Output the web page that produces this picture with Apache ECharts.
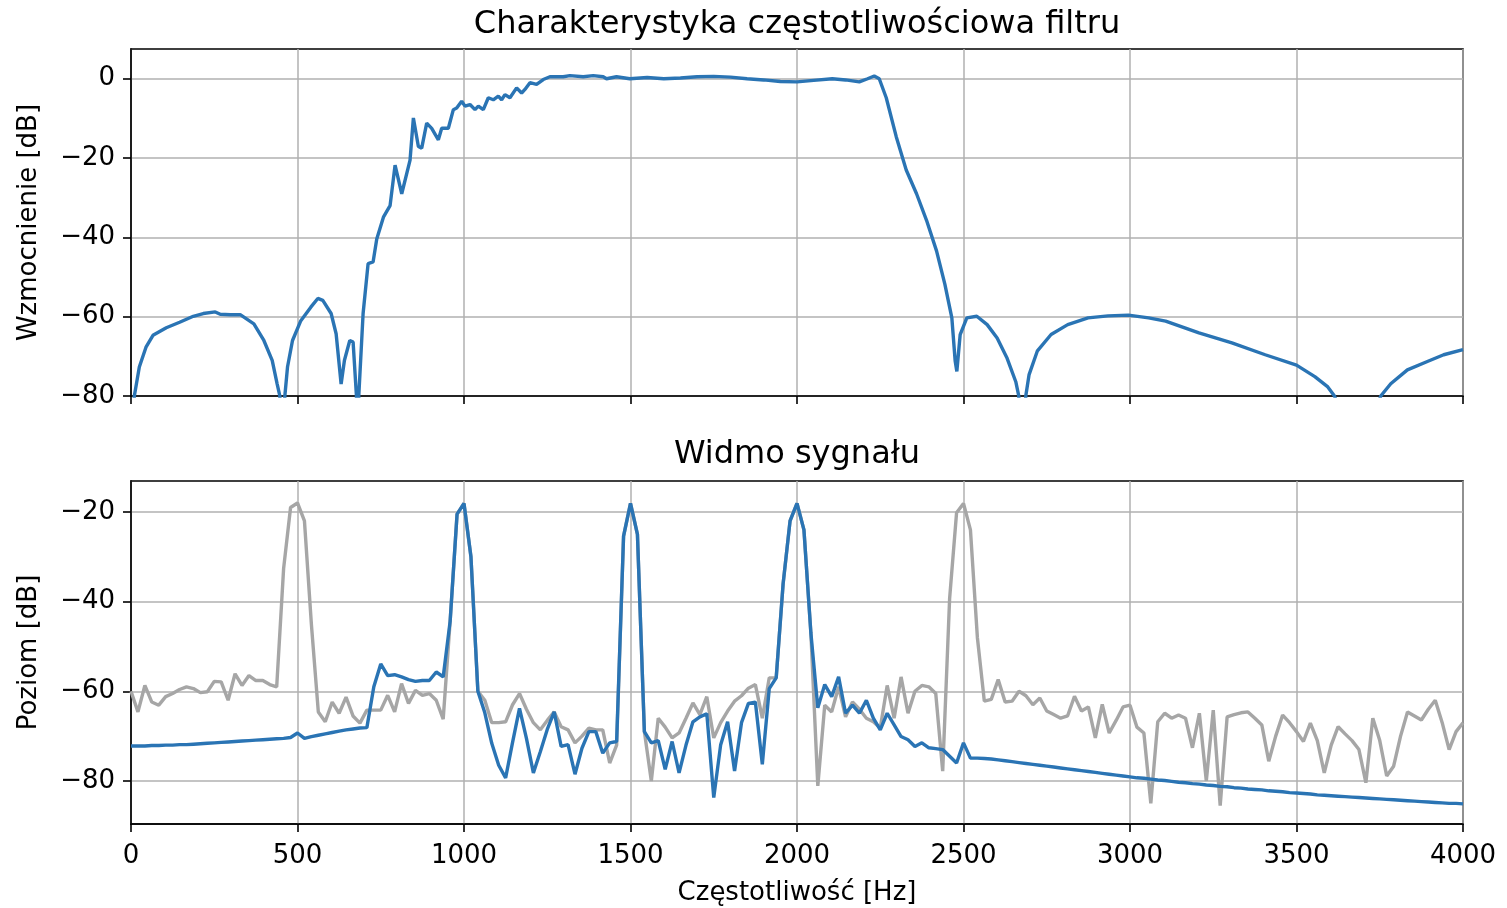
<!DOCTYPE html>
<html>
<head>
<meta charset="utf-8">
<script src="https://cdn.jsdelivr.net/npm/echarts@6/dist/echarts.min.js"></script>
<style>
  html, body { margin: 0; padding: 0; background: #fff; }
  #chart { width: 1507px; height: 908px; }
</style>
</head>
<body>
<div id="chart"></div>
<script>
// Filter magnitude response (frequency in Hz, gain in dB)
const filterFreq = [
  0, 10, 25, 45, 66, 106, 146, 187, 217, 253, 268, 298, 328, 369, 399, 424, 439, 447, 454, 462,
  470, 485, 510, 540, 561, 576, 601, 616, 631, 641, 657, 667, 677, 680, 684, 697, 712, 727, 738, 758,
  778, 793, 813, 838, 848, 863, 873, 888, 903, 923, 933, 953, 968, 978, 993, 1003, 1018, 1033, 1043, 1058,
  1073, 1088, 1103, 1113, 1123, 1138, 1158, 1173, 1183, 1198, 1218, 1238, 1258, 1298, 1318, 1358, 1388, 1418, 1428, 1458,
  1498, 1550, 1600, 1650, 1700, 1750, 1800, 1850, 1900, 1950, 2000, 2050, 2106, 2146, 2187, 2212, 2232, 2247, 2268, 2298,
  2328, 2359, 2389, 2419, 2444, 2465, 2475, 2480, 2490, 2510, 2540, 2571, 2601, 2631, 2657, 2666, 2676, 2687, 2697, 2722,
  2763, 2813, 2874, 2934, 2995, 3056, 3107, 3207, 3306, 3406, 3500, 3555, 3594, 3614, 3650, 3685, 3720, 3753, 3783, 3833,
  3893, 3942, 4000
];
const filterGain = [
  -92, -80, -72.7, -67.7, -64.7, -62.8, -61.4, -59.9, -59.2, -58.8, -59.4, -59.5, -59.5, -61.8, -66, -71, -77, -80, -100, -80,
  -72.7, -66, -61, -57.6, -55.4, -55.9, -59.2, -64.3, -77, -71, -66, -66.4, -80, -98, -80, -59.2, -46.6, -46.2, -40.4, -34.9,
  -32, -21.8, -29, -20.5, -9.9, -17.1, -17.5, -11.2, -12.5, -15.4, -12.5, -12.5, -7.8, -7.4, -5.7, -6.9, -6.5, -7.8, -6.9, -7.8,
  -4.8, -5.3, -4.4, -5.3, -4, -4.8, -2.3, -3.6, -2.7, -1, -1.4, -0.2, 0.5, 0.5, 0.8, 0.5, 0.8, 0.5, 0, 0.5,
  0, 0.3, 0, 0.2, 0.5, 0.6, 0.4, 0, -0.3, -0.7, -0.8, -0.4, 0, -0.3, -0.8, 0, 0.7, 0, -4.8, -14.6,
  -23, -29, -35.7, -43.4, -51.8, -60.3, -71.2, -73.8, -64.5, -60.3, -59.9, -62, -65.4, -70.5, -76.4, -80, -100, -80, -74.6, -68.6,
  -64.5, -62, -60.3, -59.8, -59.6, -60.3, -61.1, -64.1, -66.6, -69.6, -72.2, -75.1, -77.7, -80, -88, -95, -88, -80, -76.9, -73.4,
  -71.3, -69.6, -68.3
];

// Spectrum bins: fs = 8000 Hz, 384-point FFT, bins 0..192
const BIN_HZ = 8000 / 384;

// Level of the input signal (dB), one value per bin
const inputLevel = [
  -60, -64.6, -58.7, -62.4, -63.1, -61.2, -60.5, -59.6, -59, -59.4,
  -60.3, -60.1, -57.8, -57.9, -62, -56.1, -58.7, -56.5, -57.6, -57.6,
  -58.5, -59, -32.6, -19, -18, -22, -45, -64.6, -66.8, -62.4,
  -64.9, -61.3, -65.5, -67.1, -64.2, -64.2, -64.2, -60.9, -64.6, -58.3,
  -62.7, -59.8, -60.9, -60.5, -62, -66.2, -44.4, -20.5, -18.1, -30,
  -60, -62, -67, -67, -66.8, -63, -60.5, -64, -67, -68.6,
  -66.5, -64.6, -67.9, -68.6, -71.5, -70, -68.2, -68.6, -68.6, -76,
  -72, -25.4, -18.1, -25, -69, -80, -66, -68, -70.4, -69.3,
  -66, -62.6, -65.2, -61.2, -70.4, -67, -64.4, -62.2, -61, -59.3,
  -58.5, -66, -57, -57, -36, -22, -18.1, -24, -47, -81.1,
  -63.1, -64.6, -59, -65.7, -62.4, -64, -66, -66.8, -68.2, -58.7,
  -66, -56.8, -64.9, -60, -58.7, -59, -60.5, -77.8, -39.3, -20.2,
  -18.1, -24, -48, -62.2, -61.8, -57.4, -62.4, -62.2, -60, -61,
  -63, -61.5, -64.4, -65.2, -66, -65.5, -61.1, -64.4, -63.5, -70.4,
  -62.9, -69.3, -66.5, -63.5, -63.1, -68, -69.3, -85, -66.8, -64.9,
  -66, -65.3, -66, -72.6, -64.9, -80, -64.2, -85.5, -65.7, -65.2,
  -64.8, -64.6, -66, -67.5, -75.6, -70, -65.3, -67, -69, -71.2,
  -67.1, -71, -78.2, -72, -67.9, -69.5, -71, -73, -80.4, -66,
  -71, -78.9, -76.7, -70, -64.6, -65.5, -66.4, -64, -62, -67,
  -73, -69, -67
];

// Level of the filtered signal (dB), one value per bin
const outputLevel = [
  -72.2, -72.2, -72.2, -72.1, -72.1, -72.0, -72.0, -71.9, -71.9, -71.8,
  -71.7, -71.6, -71.5, -71.4, -71.3, -71.2, -71.1, -71.0, -70.9, -70.8,
  -70.7, -70.6, -70.5, -70.3, -69.3, -70.5, -70.1, -69.8, -69.5, -69.2,
  -68.9, -68.6, -68.4, -68.2, -68.1, -59, -53.9, -56.5, -56.3, -56.8,
  -57.4, -57.8, -57.6, -57.6, -55.7, -56.8, -44.4, -20.5, -18.1, -30,
  -60, -64.8, -71.6, -76.5, -79.3, -71.4, -63.8, -70.5, -78.2, -73.5,
  -68.5, -64.6, -72.3, -71.9, -78.5, -72.7, -69, -69, -73.8, -71.5,
  -71.2, -25.4, -18.1, -25, -69, -71.5, -71, -77.4, -71.2, -78.2,
  -72, -66.8, -65.7, -65, -83.7, -71.9, -66.8, -77.8, -67, -62.7,
  -62.4, -76.3, -59.4, -57, -36, -22, -18.1, -24, -47, -63.7,
  -58.5, -61.2, -56.8, -64.9, -63.1, -64.9, -62, -66, -68.6, -64.9,
  -67.5, -70.1, -70.8, -72.3, -71.5, -72.6, -72.8, -73, -74.5, -76,
  -71.5, -74.9, -74.9, -75.0, -75.1, -75.3, -75.5, -75.7, -75.9, -76.1,
  -76.3, -76.5, -76.7, -76.9, -77.1, -77.3, -77.5, -77.7, -77.9, -78.1,
  -78.3, -78.5, -78.7, -78.9, -79.1, -79.3, -79.4, -79.6, -79.8, -79.9,
  -80.1, -80.3, -80.4, -80.6, -80.7, -80.9, -81.0, -81.2, -81.3, -81.5,
  -81.6, -81.8, -81.9, -82.0, -82.2, -82.3, -82.4, -82.6, -82.7, -82.8,
  -82.9, -83.1, -83.2, -83.3, -83.4, -83.5, -83.6, -83.7, -83.8, -83.9,
  -84.0, -84.1, -84.2, -84.3, -84.4, -84.5, -84.6, -84.7, -84.8, -84.9,
  -85.0, -85.0, -85.1
];

const freqTicks = [0, 500, 1000, 1500, 2000, 2500, 3000, 3500, 4000];
const gainTicks = [-80, -60, -40, -20, 0];
const levelTicks = [-80, -60, -40, -20];

const titleTop = 'Charakterystyka częstotliwościowa filtru';
const titleBottom = 'Widmo sygnału';
const xName = 'Częstotliwość [Hz]';
const yNameTop = 'Wzmocnienie [dB]';
const yNameBottom = 'Poziom [dB]';

const FONT = 'DejaVu Sans';
const TICK_FS = 26;
const TITLE_FS = 32;
const BLUE = '#2a74b4';
const GREY = '#a6a6a6';
const GRID_C = '#b0b0b0';

const minus = v => (v < 0 ? '\u2212' + Math.abs(v) : String(v));

const filterData = filterFreq.map((f, i) => [f, filterGain[i]]);
const inputData = inputLevel.map((v, k) => [k * BIN_HZ, v]);
const outputData = outputLevel.map((v, k) => [k * BIN_HZ, v]);

const PLOT_L = 131, PLOT_W = 1332;

function xAxisCfg(gridIndex, showLabels) {
  return {
    type: 'value', gridIndex, min: 0, max: 4000, interval: 500,
    axisLine: { show: true, onZero: false, lineStyle: { color: '#000', width: 1.6 } },
    axisTick: { show: true, inside: false, length: 8, lineStyle: { color: '#000', width: 1.6 } },
    axisLabel: { show: showLabels, color: '#000', fontSize: TICK_FS, fontFamily: FONT, margin: 19,
                 formatter: v => (freqTicks.indexOf(v) >= 0 ? String(v) : '') },
    splitLine: { show: true, lineStyle: { color: GRID_C, width: 1.5 } },
    name: showLabels ? xName : '',
    nameLocation: 'middle', nameGap: 56,
    nameTextStyle: { color: '#000', fontSize: TICK_FS, fontFamily: FONT }
  };
}

function yAxisCfg(gridIndex, min, max, ticks, name, interval) {
  const cfg = {
    type: 'value', gridIndex, min, max,
    axisLine: { show: true, onZero: false, lineStyle: { color: '#000', width: 1.6 } },
    axisTick: { show: true, inside: false, length: 8, customValues: ticks,
                lineStyle: { color: '#000', width: 1.6 } },
    axisLabel: { color: '#000', fontSize: TICK_FS, fontFamily: FONT, margin: 16,
                 customValues: ticks,
                 formatter: v => (ticks.indexOf(v) >= 0 ? minus(v) : '') },
    splitLine: { show: true, lineStyle: { color: GRID_C, width: 1.5 } },
    name, nameLocation: 'middle', nameGap: 89,
    nameTextStyle: { color: '#000', fontSize: TICK_FS, fontFamily: FONT }
  };
  if (interval) cfg.interval = interval; else cfg.splitNumber = 4;
  return cfg;
}

const chart = echarts.init(document.getElementById('chart'), null, { renderer: 'canvas' });

chart.setOption({
  animation: false,
  backgroundColor: '#fff',
  grid: [
    { left: PLOT_L, top: 49, width: PLOT_W, height: 347, show: true, borderColor: '#000', borderWidth: 1.6, containLabel: false },
    { left: PLOT_L, top: 481, width: PLOT_W, height: 343, show: true, borderColor: '#000', borderWidth: 1.6, containLabel: false }
  ],
  xAxis: [xAxisCfg(0, false), xAxisCfg(1, true)],
  yAxis: [
    yAxisCfg(0, -80, 7.5, gainTicks, yNameTop, 20),
    yAxisCfg(1, -89.6, -13.1, levelTicks, yNameBottom, null)
  ],
  graphic: [
    { type: 'text', x: PLOT_L + PLOT_W / 2, y: 25, silent: true,
      style: { text: titleTop, fill: '#000', font: TITLE_FS + 'px "DejaVu Sans"',
               align: 'center', verticalAlign: 'middle', textAlign: 'center', textVerticalAlign: 'middle' } },
    { type: 'text', x: PLOT_L + PLOT_W / 2, y: 455, silent: true,
      style: { text: titleBottom, fill: '#000', font: TITLE_FS + 'px "DejaVu Sans"',
               align: 'center', verticalAlign: 'middle', textAlign: 'center', textVerticalAlign: 'middle' } }
  ],
  series: [
    { type: 'line', xAxisIndex: 0, yAxisIndex: 0, data: filterData, showSymbol: false, symbol: 'none',
      clip: true, lineStyle: { color: BLUE, width: 3.4 }, z: 3 },
    { type: 'line', xAxisIndex: 1, yAxisIndex: 1, data: inputData, showSymbol: false, symbol: 'none',
      clip: true, lineStyle: { color: GREY, width: 3.4 }, z: 2 },
    { type: 'line', xAxisIndex: 1, yAxisIndex: 1, data: outputData, showSymbol: false, symbol: 'none',
      clip: true, lineStyle: { color: BLUE, width: 3.4 }, z: 3 }
  ]
});
</script>
</body>
</html>
